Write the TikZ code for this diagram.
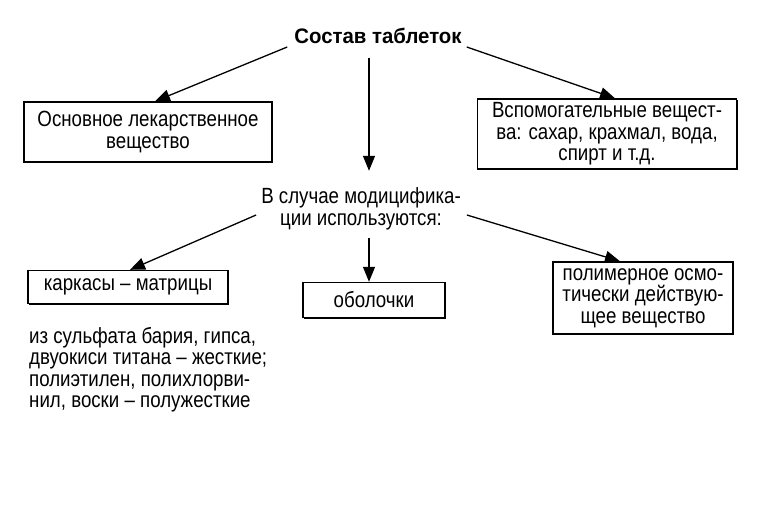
\documentclass[tikz,border=0pt]{standalone}
\usepackage{fontspec}
\setmainfont{Liberation Sans}[FakeStretch=0.85]
\newfontfamily\titlefont{Liberation Sans}[FakeStretch=0.97]
\usetikzlibrary{arrows.meta,shadows}

\begin{document}
\begin{tikzpicture}[x=1pt,y=-1pt,
        txt/.style={align=center,inner sep=0pt,font=\fontsize{22}{21.5}\selectfont},
        box/.style={txt,draw,line width=1.4pt,fill=white,
            drop shadow={shadow xshift=1.4pt,shadow yshift=-1.4pt,opacity=1,fill=black}},
        arr/.style={-{Triangle[length=15pt,width=12pt]},line width=1.3pt},
    ]
    \useasboundingbox (0,0) rectangle (762,512);

    \node[txt,font=\fontsize{21}{20}\selectfont\titlefont\bfseries] (title) at (378,36) {Состав таблеток};

    \node[box,minimum width=248pt,minimum height=60pt] (main) at (148,132)
        {Основное лекарственное\\вещество};
    \node[box,minimum width=259pt,minimum height=70pt] (aux) at (607,134)
        {Вспомогательные вещест-\\ва: сахар, крахмал, вода,\\спирт и т.д.};

    \node[txt] (mod) at (361,209) {В случае модицифика-\\ции используются:};

    \node[box,minimum width=200pt,minimum height=33pt] (frame) at (128,287) {каркасы -- матрицы};
    \node[box,minimum width=142pt,minimum height=35pt] (shell) at (374,300) {оболочки};
    \node[box,minimum width=180pt,minimum height=72pt] (osm) at (643,298)
        {полимерное осмо-\\тически действую-\\щее вещество};

    \node[txt,align=left,anchor=north west,font=\fontsize{22}{21.5}\selectfont] (note) at (29,327)
        {из сульфата бария, гипса,\\двуокиси титана -- жесткие;\\полиэтилен, полихлорви-\\нил, воски -- полужесткие};

    % arrows
    \draw[arr] ([xshift=-7pt,yshift=-3pt]title.south west) -- ([xshift=7pt]main.north);
    \draw[arr] ([xshift=5pt,yshift=-3pt]title.south east) -- ([xshift=8pt]aux.north);
    \draw[arr] ([xshift=-9pt,yshift=-14pt]title.south) -- ([xshift=8pt,yshift=17pt]mod.north);
    \draw[arr] ([xshift=-5pt,yshift=-6pt]mod.west) -- ([xshift=2pt]frame.north);
    \draw[arr] ([xshift=8pt,yshift=-8pt]mod.south) -- ([xshift=-5pt]shell.north);
    \draw[arr] ([xshift=6pt,yshift=-6pt]mod.east) -- ([xshift=-23pt]osm.north);
\end{tikzpicture}
\end{document}
